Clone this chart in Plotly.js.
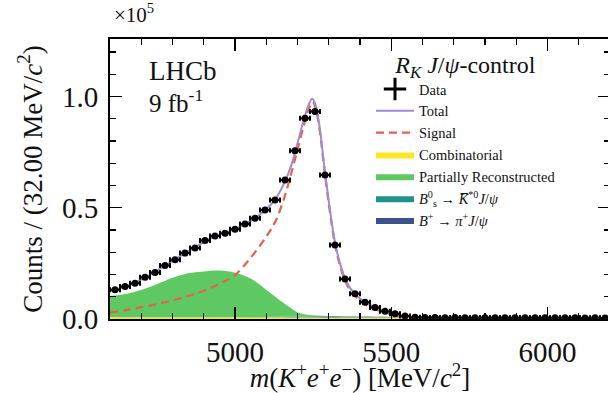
<!DOCTYPE html>
<html>
<head>
<meta charset="utf-8">
<script src="https://cdn.plot.ly/plotly-3.0.1.min.js"></script>
<style>
  html, body { margin: 0; padding: 0; background: #fff; width: 608px; height: 393px; overflow: hidden; }
  #plot { width: 612px; height: 393px; }
</style>
</head>
<body>
<div id="plot"></div>
<script>
// m(K+e+e-) fit, J/psi control mode, 32 MeV bins from 4600 to 6200 MeV (counts in units of 1e5)
const binCentres = [4616,4648,4680,4712,4744,4776,4808,4840,4872,4904,4936,4968,5000,5032,5064,5096,5128,5160,5192,5224,
                    5256,5288,5320,5352,5384,5416,5448,5480,5512,5544,5576,5608,5640,5672,5704,5736,5768,5800,5832,5864,
                    5896,5928,5960,5992,6024,6056,6088,6120,6152,6184];
const dataCounts = [0.131,0.146,0.161,0.188,0.209,0.240,0.266,0.296,0.319,0.353,0.373,0.385,0.403,0.427,0.453,0.490,0.535,0.625,0.756,0.902,
                    0.932,0.647,0.333,0.180,0.113,0.075,0.052,0.035,0.024,0.013,0.008,0.0065,0.0062,0.006,0.0063,0.0058,0.006,0.0057,0.006,0.0055,
                    0.0057,0.0054,0.0056,0.0052,0.0054,0.0051,0.0053,0.005,0.0051,0.0049];

// total fit curve
const totalX = [4600,4616,4648,4680,4712,4744,4776,4808,4840,4872,4904,4936,4968,5000,5032,5064,5096,5128,5160,5180,
                5200,5220,5235,5247,5257,5270,5288,5304,5320,5336,5352,5368,5384,5400,5416,5448,5480,5512,5544,5576,
                5610,5700,5900,6200];
const totalY = [0.124,0.131,0.146,0.163,0.186,0.212,0.240,0.268,0.295,0.322,0.349,0.370,0.387,0.404,0.426,0.453,0.489,0.535,0.618,0.690,
                0.790,0.895,0.960,0.990,0.965,0.870,0.660,0.490,0.345,0.250,0.183,0.140,0.113,0.092,0.076,0.053,0.036,0.024,0.015,0.0095,
                0.0068,0.0062,0.0056,0.0048];

// signal component
const signalX = [4600,4650,4700,4750,4800,4850,4900,4950,5000,5050,5100,5130,5160,5180,5200,5220,5235,5248,5257,5270,
                 5288,5304,5320,5336,5352,5368,5384,5400,5416,5448,5480,5512,5544,5576,5610,5700,6200];
const signalY = [0.028,0.040,0.053,0.067,0.084,0.103,0.127,0.158,0.198,0.275,0.370,0.440,0.555,0.655,0.760,0.870,0.940,0.975,0.952,0.857,
                 0.648,0.478,0.334,0.240,0.173,0.130,0.103,0.083,0.067,0.045,0.029,0.017,0.009,0.004,0.0015,0.0004,0.0];

// background components (stacked)
const bkgX = [4600,4650,4700,4750,4800,4850,4900,4950,5000,5050,5100,5140,5175,5200,5230,5260,5300,5350,5400,5450,
              5500,5550,5600,5700,5800,5900,6000,6100,6200];
const combinatorial = [0.0085,0.0084,0.0083,0.0082,0.0081,0.008,0.0079,0.0078,0.0077,0.0076,0.0075,0.0074,0.0073,0.0072,0.0072,0.0071,0.007,0.0069,0.0068,0.0067,
                       0.0066,0.0064,0.0063,0.006,0.0057,0.0054,0.0051,0.0048,0.0045];
const bToPiJpsi = [0,0,0,0,0,0,0,0,0,0,0,0,0.0002,0.0004,0.0008,0.0012,0.0015,0.0015,0.0012,0.0008,
                   0.0005,0.0003,0.0001,0,0,0,0,0,0];
const bsToKstJpsi = [0,0,0,0,0,0,0,0.0002,0.0005,0.001,0.0018,0.0025,0.003,0.0033,0.0035,0.0035,0.0034,0.0032,0.003,0.0025,
                     0.0018,0.001,0.0005,0.0001,0,0,0,0,0];
const partialReco = [0.0945,0.1036,0.1217,0.148,0.177,0.197,0.206,0.210,0.200,0.173,0.122,0.078,0.042,0.019,0.008,0.004,0.002,0.001,0.0005,0.0002,
                     0,0,0,0,0,0,0,0,0];

const serif = 'Liberation Serif, Times New Roman, serif';
const colors = {
  total: '#a08ad6', signal: '#e8604a',
  comb: '#fde725', partial: '#5ec962', bs: '#21918c', bplus: '#3b528b'
};

// running sums for the stacked areas
function addArr(a, b) { return a.map((v, i) => v + b[i]); }
const stack1 = combinatorial.slice();
const stack2 = addArr(stack1, bToPiJpsi);
const stack3 = addArr(stack2, bsToKstJpsi);
const stack4 = addArr(stack3, partialReco);

const dataErr = dataCounts.map(v => Math.sqrt(v * 1e5) / 1e5);

const traces = [
  { x: bkgX, y: stack1, mode: 'lines', line: { width: 0, shape: 'spline' }, fill: 'tozeroy',
    fillcolor: colors.comb, name: 'Combinatorial', legendrank: 4 },
  { x: bkgX, y: stack2, mode: 'lines', line: { width: 0, shape: 'spline' }, fill: 'tonexty',
    fillcolor: colors.bplus, name: '<i>B</i><sup>+</sup> → <i>π</i><sup>+</sup><i>J</i>/<i>ψ</i>', legendrank: 7 },
  { x: bkgX, y: stack3, mode: 'lines', line: { width: 0, shape: 'spline' }, fill: 'tonexty',
    fillcolor: colors.bs, name: '<i>B</i><sup>0</sup><sub>s</sub> → <i>K̅</i><sup>*0</sup><i>J</i>/<i>ψ</i>', legendrank: 6 },
  { x: bkgX, y: stack4, mode: 'lines', line: { width: 0, shape: 'spline' }, fill: 'tonexty',
    fillcolor: colors.partial, name: 'Partially Reconstructed', legendrank: 5 },
  { x: signalX, y: signalY, mode: 'lines', name: 'Signal', legendrank: 3,
    line: { color: colors.signal, width: 2.2, dash: '8px,5px', shape: 'spline' } },
  { x: totalX, y: totalY, mode: 'lines', name: 'Total', legendrank: 2,
    line: { color: colors.total, width: 2, shape: 'spline' } },
  { x: binCentres, y: dataCounts, mode: 'markers', showlegend: false,
    marker: { symbol: 'circle', size: 7, color: 'black' },
    error_x: { type: 'constant', value: 16, width: 2.5, thickness: 2, color: 'black' },
    error_y: { type: 'data', array: dataErr, width: 2.5, thickness: 2, color: 'black' } },
  // legend key for the data points
  { x: [null], y: [null], mode: 'markers', name: 'Data', legendrank: 1,
    marker: { symbol: 'cross-thin', size: 16, line: { width: 3, color: 'black' } } }
];

const axisCommon = {
  showline: true, linecolor: 'black', linewidth: 2, mirror: 'allticks',
  ticks: 'inside', ticklen: 12, tickwidth: 1.5, tickcolor: 'black',
  showgrid: false, zeroline: false,
  tickfont: { family: serif, size: 29, color: '#111' }
};

const layout = {
  width: 612, height: 393,
  margin: { l: 110, r: 2, t: 39, b: 74 },
  paper_bgcolor: 'white', plot_bgcolor: 'white',
  font: { family: serif, color: '#111' },
  xaxis: Object.assign({}, axisCommon, {
    range: [4600, 6200], tick0: 5000, dtick: 500, tickformat: 'd', ticklabelstandoff: 6,
    minor: { dtick: 100, ticks: 'inside', ticklen: 6, tickwidth: 1.2, tickcolor: 'black' },
    title: { text: '<i>m</i>(<i>K</i><sup>+</sup><i>e</i><sup>+</sup><i>e</i><sup>−</sup>) [MeV/<i>c</i><sup>2</sup>]',
             font: { family: serif, size: 27, color: '#111' }, standoff: 4 }
  }),
  yaxis: Object.assign({}, axisCommon, {
    range: [0, 1.258], tick0: 0, dtick: 0.5, tickformat: '.1f', ticklabelstandoff: 4,
    minor: { dtick: 0.1, ticks: 'inside', ticklen: 6, tickwidth: 1.2, tickcolor: 'black' },
    title: { text: 'Counts / (32.00 MeV/<i>c</i><sup>2</sup>)',
             font: { family: serif, size: 27, color: '#111' }, standoff: 12 }
  }),
  legend: {
    x: 0.522, y: 0.99, xanchor: 'left', yanchor: 'top',
    bgcolor: 'rgba(0,0,0,0)', borderwidth: 0,
    font: { family: serif, size: 14.5, color: '#111' },
    itemwidth: 38, traceorder: 'normal',
    title: { text: '<i>R<sub>K</sub> J</i>/<i>ψ</i>-control', side: 'top center',
             font: { family: serif, size: 24, color: '#111' } }
  },
  annotations: [
    { text: 'LHCb', xref: 'paper', yref: 'paper', x: 0.074, y: 0.885, xanchor: 'left', yanchor: 'middle',
      showarrow: false, font: { family: serif, size: 27, color: '#111' } },
    { text: '9 fb<sup>-1</sup>', xref: 'paper', yref: 'paper', x: 0.074, y: 0.778, xanchor: 'left', yanchor: 'middle',
      showarrow: false, font: { family: serif, size: 25, color: '#111' } },
    { text: '×10<sup>5</sup>', xref: 'paper', yref: 'paper', x: 0.004, y: 1.09, xanchor: 'left', yanchor: 'middle',
      showarrow: false, font: { family: serif, size: 21, color: '#111' } }
  ]
};

Plotly.newPlot('plot', traces, layout, { displayModeBar: false, staticPlot: true });
</script>
</body>
</html>
